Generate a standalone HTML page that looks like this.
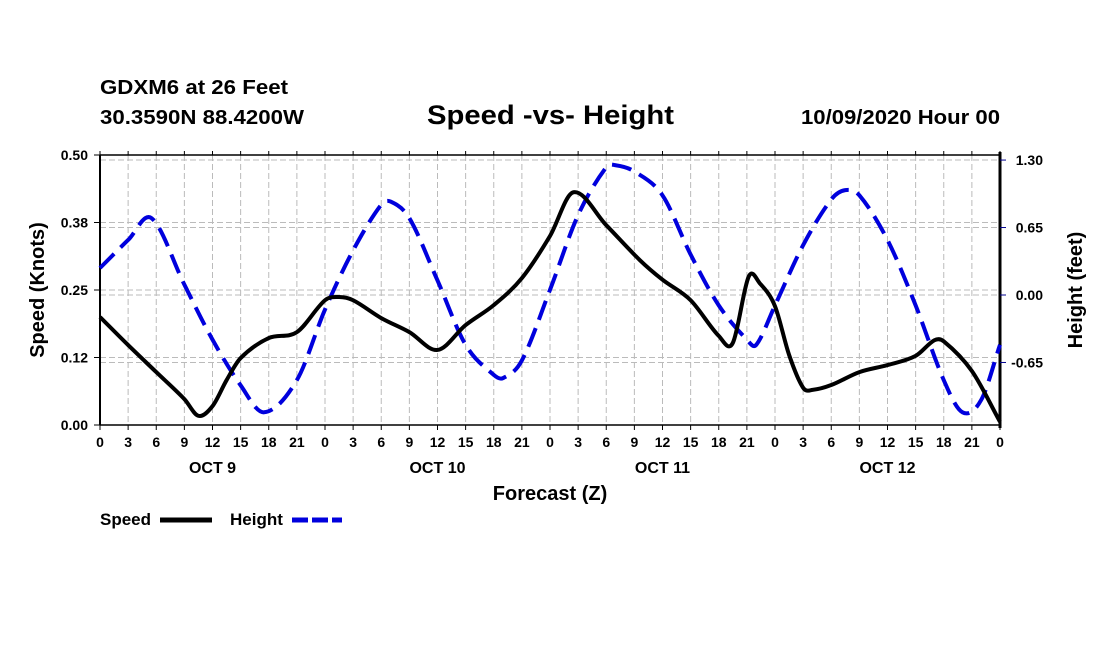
<!DOCTYPE html>
<html><head><meta charset="utf-8"><style>
body{margin:0;background:#fff;}
svg text{font-family:"Liberation Sans",sans-serif;font-weight:bold;fill:#000;}
</style></head><body>
<svg id="chart" width="1100" height="650" viewBox="0 0 1100 650" xmlns="http://www.w3.org/2000/svg">
<text x="100" y="94" font-size="20" textLength="188" lengthAdjust="spacingAndGlyphs">GDXM6 at 26 Feet</text>
<text x="100" y="124" font-size="20" textLength="204" lengthAdjust="spacingAndGlyphs">30.3590N 88.4200W</text>
<text x="427" y="124" font-size="27" textLength="247" lengthAdjust="spacingAndGlyphs">Speed -vs- Height</text>
<text x="801" y="124" font-size="20" textLength="199" lengthAdjust="spacingAndGlyphs">10/09/2020 Hour 00</text>
<g id="grid"></g>
<g id="axes"></g>
<g id="series"></g>
<text x="550" y="500" font-size="20" text-anchor="middle">Forecast (Z)</text>
<text transform="translate(44,290) rotate(-90)" font-size="20" text-anchor="middle">Speed (Knots)</text>
<text transform="translate(1082,290) rotate(-90)" font-size="20" text-anchor="middle">Height (feet)</text>
<g>
<text x="100" y="525" font-size="17">Speed</text>
<line x1="160" y1="520" x2="212" y2="520" stroke="#000" stroke-width="5"/>
<text x="230" y="525" font-size="17">Height</text>
<line x1="292" y1="520" x2="342" y2="520" stroke="#0000dd" stroke-width="5" stroke-dasharray="16,4"/>
</g>
</svg>
<script>
const speedHours=[0,3,6,9,10.5,12,13.5,15,18,21,24,25.5,27,30,33,36,39,42,45,48,50.5,54,57.6,60,63,66,67.5,69.2,70.4,72,73.5,75,76,78,81,84,87,89,90,93,96];
const speedVals=[0.20,0.148,0.098,0.048,0.017,0.035,0.083,0.124,0.161,0.172,0.231,0.237,0.231,0.198,0.172,0.139,0.185,0.222,0.272,0.35,0.431,0.37,0.305,0.269,0.231,0.165,0.152,0.275,0.262,0.22,0.13,0.069,0.065,0.074,0.098,0.111,0.128,0.157,0.155,0.10,0.006];
const heightHours=[0,3,5.5,9,12,15,17.5,21,24,27,30,31,33,36,39,42,43,45,48,51,54,55,57,60,63,66,69,70,72,75,78,79.5,81,84,87,90,92,94,96];
const heightVals=[0.26,0.53,0.74,0.10,-0.43,-0.87,-1.13,-0.82,-0.14,0.43,0.87,0.90,0.74,0.14,-0.48,-0.77,-0.80,-0.63,0.05,0.77,1.23,1.25,1.19,0.96,0.39,-0.10,-0.43,-0.48,-0.10,0.48,0.92,1.01,0.96,0.53,-0.10,-0.82,-1.13,-1.01,-0.48];
const xTickLabels=["0","3","6","9","12","15","18","21","0","3","6","9","12","15","18","21","0","3","6","9","12","15","18","21","0","3","6","9","12","15","18","21","0"];
const dayLabels=["OCT 9","OCT 10","OCT 11","OCT 12"];
const leftTicks=[0,0.125,0.25,0.375,0.5];
const leftTickLabels=["0.00","0.12","0.25","0.38","0.50"];
const rightTicks=[-0.65,0,0.65,1.3];
const rightTickLabels=["-0.65","0.00","0.65","1.30"];

const X0=100,X1=1000,YB=425,YT=155;
const xs=h=>X0+h*(X1-X0)/96;
const yL=v=>YB-v*(YB-YT)/0.5;
const yR=v=>295-v*103.8;
const NS='http://www.w3.org/2000/svg';
function mk(t,a,p){const e=document.createElementNS(NS,t);for(const k in a)e.setAttribute(k,a[k]);p.appendChild(e);return e;}
const grid=document.getElementById('grid'),axes=document.getElementById('axes'),series=document.getElementById('series');
const gs={stroke:'#bbb','stroke-width':1,'stroke-dasharray':'6,3'};
for(let i=1;i<xTickLabels.length-1;i++){const l=mk('line',Object.assign({x1:xs(i*3),x2:xs(i*3),y1:YT,y2:YB},gs),grid);

}
leftTicks.forEach(v=>{const l=mk('line',Object.assign({x1:X0,x2:X1,y1:yL(v),y2:yL(v)},gs),grid);

});
rightTicks.forEach(v=>{const l=mk('line',Object.assign({x1:X0,x2:X1,y1:yR(v),y2:yR(v)},gs),grid);

});
mk('line',{x1:X0,x2:X1,y1:YT,y2:YT,stroke:'#000','stroke-width':1.5},axes);
mk('line',{x1:X0,x2:X1,y1:YB,y2:YB,stroke:'#000','stroke-width':1.5},axes);
mk('line',{x1:X0,x2:X0,y1:YT,y2:YB,stroke:'#000','stroke-width':2},axes);
mk('line',{x1:X1,x2:X1,y1:YT-3,y2:YB+3,stroke:'#000','stroke-width':3},axes);
xTickLabels.forEach((t,i)=>{const x=xs(i*3);
mk('line',{x1:x,x2:x,y1:YB,y2:YB+5,stroke:'#000'},axes);mk('line',{x1:x,x2:x,y1:YT,y2:YT-4,stroke:'#000'},axes);
const e=mk('text',{x:x,y:YB+22,'font-size':14,'text-anchor':'middle'},axes);e.textContent=t;

});
dayLabels.forEach((t,i)=>{const e=mk('text',{x:xs(12+24*i),y:YB+48,'font-size':16,'text-anchor':'middle'},axes);e.textContent=t;

});
leftTicks.forEach((v,i)=>{mk('line',{x1:X0-6,x2:X0,y1:yL(v),y2:yL(v),stroke:'#000'},axes);
const e=mk('text',{x:X0-12,y:yL(v)+5,'font-size':14,'text-anchor':'end'},axes);e.textContent=leftTickLabels[i];

});
rightTicks.forEach((v,i)=>{mk('line',{x1:X1,x2:X1+6,y1:yR(v),y2:yR(v),stroke:'#00008b'},axes);
const e=mk('text',{x:1043,y:yR(v)+5,'font-size':14,'text-anchor':'end'},axes);e.textContent=rightTickLabels[i];

});
function smooth(p){const n=p.length,m=[];
for(let i=0;i<n;i++){const a=p[Math.max(0,i-1)],b=p[Math.min(n-1,i+1)];m.push((b[1]-a[1])/(b[0]-a[0]));}
let d='M'+p[0][0]+','+p[0][1];
for(let i=0;i<n-1;i++){const dx=(p[i+1][0]-p[i][0])/3;
d+=' C'+(p[i][0]+dx)+','+(p[i][1]+m[i]*dx)+' '+(p[i+1][0]-dx)+','+(p[i+1][1]-m[i+1]*dx)+' '+p[i+1][0]+','+p[i+1][1];}
return d;}
const hp=mk('path',{d:smooth(heightHours.map((h,i)=>[xs(h),yR(heightVals[i])])),fill:'none',stroke:'#0000dd','stroke-width':4,'stroke-dasharray':'20,9'},series);


const sp=mk('path',{d:smooth(speedHours.map((h,i)=>[xs(h),yL(speedVals[i])])),fill:'none',stroke:'#000','stroke-width':4},series);


</script>
</body></html>
